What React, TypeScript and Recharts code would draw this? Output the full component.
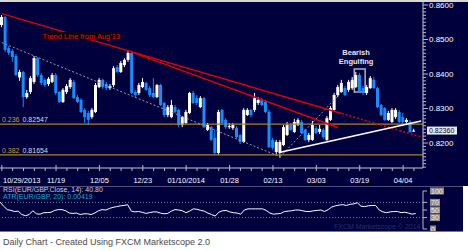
import React from 'react';
import {
  ComposedChart, Bar, Line, XAxis, YAxis, ReferenceLine, ReferenceArea, ReferenceDot,
} from 'recharts';

// EUR/GBP daily candles, 10/29/2013 .. 04/09/2014
const opens = [
  0.8542, 0.8565, 0.8475, 0.8467, 0.8452, 0.8390, 0.8406, 0.8333, 0.8348, 0.8377,
  0.8446, 0.8397, 0.8383, 0.8371, 0.8377, 0.8397, 0.8348, 0.8319, 0.8348, 0.8362,
  0.8377, 0.8333, 0.8325, 0.8296, 0.8287, 0.8275, 0.8290, 0.8362, 0.8383, 0.8371,
  0.8359, 0.8368, 0.8420, 0.8406, 0.8426, 0.8441, 0.8461, 0.8348, 0.8345, 0.8362,
  0.8374, 0.8359, 0.8345, 0.8333, 0.8368, 0.8316, 0.8281, 0.8275, 0.8304, 0.8296,
  0.8252, 0.8258, 0.8287, 0.8345, 0.8330, 0.8304, 0.8330, 0.8238, 0.8246, 0.8215,
  0.8171, 0.8296, 0.8267, 0.8246, 0.8243, 0.8243, 0.8223, 0.8203, 0.8281, 0.8296,
  0.8296, 0.8316, 0.8325, 0.8319, 0.8290, 0.8209, 0.8174, 0.8171, 0.8194, 0.8223,
  0.8252, 0.8232, 0.8252, 0.8261, 0.8238, 0.8209, 0.8209, 0.8243, 0.8232, 0.8238,
  0.8209, 0.8267, 0.8296, 0.8339, 0.8348, 0.8359, 0.8354, 0.8359, 0.8362, 0.8397,
  0.8359, 0.8345, 0.8359, 0.8383, 0.8359, 0.8310, 0.8301, 0.8267, 0.8261, 0.8275,
  0.8290, 0.8275, 0.8261, 0.8261, 0.8235,
];
const highs = [
  0.8571, 0.8568, 0.8481, 0.8472, 0.8458, 0.8412, 0.8409, 0.8354, 0.8394, 0.8452,
  0.8449, 0.8403, 0.8388, 0.8391, 0.8403, 0.8403, 0.8351, 0.8359, 0.8371, 0.8388,
  0.8383, 0.8339, 0.8330, 0.8301, 0.8293, 0.8301, 0.8374, 0.8388, 0.8386, 0.8377,
  0.8371, 0.8423, 0.8426, 0.8438, 0.8446, 0.8467, 0.8467, 0.8354, 0.8374, 0.8388,
  0.8377, 0.8365, 0.8388, 0.8371, 0.8371, 0.8319, 0.8310, 0.8325, 0.8310, 0.8299,
  0.8278, 0.8296, 0.8348, 0.8351, 0.8339, 0.8336, 0.8333, 0.8258, 0.8249, 0.8238,
  0.8296, 0.8299, 0.8272, 0.8258, 0.8258, 0.8249, 0.8226, 0.8301, 0.8301, 0.8299,
  0.8345, 0.8333, 0.8330, 0.8325, 0.8296, 0.8215, 0.8209, 0.8209, 0.8252, 0.8261,
  0.8258, 0.8270, 0.8272, 0.8267, 0.8241, 0.8229, 0.8264, 0.8249, 0.8252, 0.8243,
  0.8278, 0.8307, 0.8345, 0.8368, 0.8383, 0.8365, 0.8383, 0.8391, 0.8406, 0.8403,
  0.8365, 0.8368, 0.8394, 0.8391, 0.8362, 0.8313, 0.8304, 0.8293, 0.8301, 0.8301,
  0.8296, 0.8287, 0.8272, 0.8267, 0.8241,
];
const lows = [
  0.8536, 0.8464, 0.8455, 0.8435, 0.8394, 0.8380, 0.8304, 0.8328, 0.8342, 0.8371,
  0.8391, 0.8368, 0.8362, 0.8365, 0.8374, 0.8339, 0.8316, 0.8316, 0.8342, 0.8357,
  0.8328, 0.8316, 0.8287, 0.8258, 0.8252, 0.8270, 0.8287, 0.8359, 0.8357, 0.8354,
  0.8354, 0.8362, 0.8403, 0.8403, 0.8420, 0.8435, 0.8342, 0.8333, 0.8339, 0.8359,
  0.8351, 0.8333, 0.8330, 0.8330, 0.8307, 0.8275, 0.8275, 0.8272, 0.8287, 0.8246,
  0.8246, 0.8255, 0.8284, 0.8313, 0.8310, 0.8301, 0.8243, 0.8235, 0.8206, 0.8165,
  0.8165, 0.8255, 0.8241, 0.8241, 0.8238, 0.8214, 0.8197, 0.8200, 0.8278, 0.8275,
  0.8290, 0.8310, 0.8307, 0.8287, 0.8186, 0.8180, 0.8168, 0.8157, 0.8191, 0.8220,
  0.8235, 0.8229, 0.8249, 0.8226, 0.8206, 0.8203, 0.8206, 0.8226, 0.8226, 0.8212,
  0.8206, 0.8264, 0.8293, 0.8333, 0.8345, 0.8336, 0.8348, 0.8354, 0.8359, 0.8345,
  0.8339, 0.8339, 0.8357, 0.8357, 0.8301, 0.8278, 0.8264, 0.8264, 0.8258, 0.8270,
  0.8258, 0.8255, 0.8255, 0.8229, 0.8232,
];
const closes = [
  0.8565, 0.8470, 0.8461, 0.8449, 0.8397, 0.8406, 0.8333, 0.8345, 0.8388, 0.8446,
  0.8397, 0.8374, 0.8368, 0.8386, 0.8397, 0.8345, 0.8319, 0.8354, 0.8365, 0.8383,
  0.8330, 0.8319, 0.8290, 0.8275, 0.8267, 0.8296, 0.8368, 0.8383, 0.8362, 0.8359,
  0.8365, 0.8417, 0.8406, 0.8432, 0.8441, 0.8461, 0.8345, 0.8339, 0.8368, 0.8377,
  0.8354, 0.8339, 0.8333, 0.8368, 0.8310, 0.8281, 0.8304, 0.8310, 0.8290, 0.8252,
  0.8275, 0.8290, 0.8345, 0.8316, 0.8316, 0.8330, 0.8246, 0.8252, 0.8209, 0.8171,
  0.8290, 0.8258, 0.8246, 0.8249, 0.8252, 0.8217, 0.8203, 0.8296, 0.8296, 0.8281,
  0.8330, 0.8325, 0.8310, 0.8290, 0.8188, 0.8186, 0.8203, 0.8203, 0.8246, 0.8252,
  0.8238, 0.8261, 0.8267, 0.8229, 0.8209, 0.8223, 0.8252, 0.8229, 0.8241, 0.8217,
  0.8272, 0.8301, 0.8339, 0.8362, 0.8374, 0.8339, 0.8377, 0.8383, 0.8397, 0.8348,
  0.8345, 0.8362, 0.8388, 0.8359, 0.8304, 0.8281, 0.8267, 0.8287, 0.8296, 0.8296,
  0.8261, 0.8261, 0.8267, 0.8232, 0.8236,
];
const rsi = [
  71, 60, 51, 49, 46, 47, 38, 35, 38, 48,
  40, 39, 43, 43, 44, 49, 51, 51, 48, 42,
  41, 42, 38, 40, 40, 38, 42, 48, 51, 50,
  54, 57, 59, 61, 62, 64, 47, 45, 46, 44,
  41, 43, 45, 45, 42, 40, 41, 47, 51, 50,
  48, 43, 47, 53, 52, 49, 47, 42, 38, 34,
  44, 48, 49, 45, 43, 42, 39, 50, 53, 53,
  53, 53, 53, 49, 42, 39, 40, 41, 46, 47,
  48, 50, 50, 48, 46, 46, 48, 49, 50, 46,
  51, 58, 61, 63, 64, 62, 65, 66, 69, 60,
  59, 61, 62, 62, 50, 45, 43, 45, 46, 46,
  43, 44, 42, 39, 40.8,
];

const tickIdx = [0, 15, 27, 39, 51, 63, 75, 87, 99, 111];
const tickLabels = ['10/29/2013', '11/19', '12/05', '12/23', '01/10/2014', '01/28', '02/13', '03/03', '03/19', '04/04'];
const priceLabels = [0.82, 0.83, 0.84, 0.85, 0.86];
const rsiLabels = [0, 30, 50, 70, 100];
const fibs = [{ ratio: '0.236', price: 0.82547 }, { ratio: '0.382', price: 0.81654 }];
const lastPrice = 0.8236;

const NAVY = '#00003c';
const BLUE = '#1a8cff';
const FONT = '"Liberation Sans", Arial, sans-serif';

const rows = Array.from({ length: opens.length + 2 }, (_, i) =>
  i < opens.length
    ? { i, o: opens[i], h: highs[i], l: lows[i], c: closes[i], range: [lows[i], highs[i]], rsi: rsi[i] }
    : { i, range: null, rsi: null });

const minorTicks = Array.from({ length: 48 }, (_, k) => +(0.813 + k * 0.001).toFixed(3));
const xTicks = rows.filter((r) => r.i % 3 === 0 && r.i < opens.length).map((r) => r.i);

const Candle = (props: any) => {
  const { x, y, width, height, payload } = props;
  if (!payload || payload.o == null) return null;
  const { o, h, l, c } = payload;
  const color = c >= o ? '#ffffff' : BLUE;
  const k = height / Math.max(h - l, 1e-9);
  const py = (p: number) => y + (h - p) * k;
  const top = py(Math.max(o, c));
  const bot = py(Math.min(o, c));
  const cx = x + width / 2;
  return (
    <g>
      <line x1={cx} x2={cx} y1={y} y2={y + height} stroke={color} strokeWidth={1} />
      <rect x={x} y={top} width={width} height={Math.max(1, bot - top)} fill={color} />
    </g>
  );
};

const XTick = (props: any) => {
  const { x, y, payload } = props;
  const k = tickIdx.indexOf(payload.value);
  const major = k >= 0;
  return (
    <g>
      <line x1={x} x2={x} y1={y - (major ? 3 : 0)} y2={y + 3} stroke="#b8b8c8" />
      {major && (
        <text x={k === 0 ? 3 : x} y={y + 15} textAnchor={k === 0 ? 'start' : 'middle'}
          fill="#ffffff" fontSize={7.5} fontFamily={FONT}>{tickLabels[k]}</text>
      )}
    </g>
  );
};

const YTick = (props: any) => {
  const { x, y, payload } = props;
  const v = payload.value;
  const major = priceLabels.some((p) => Math.abs(p - v) < 1e-6);
  return (
    <g>
      <line x1={x} x2={x + (major ? 5 : 3)} y1={y} y2={y} stroke="#b8b8c8" />
      {major && (
        <text x={x + 6} y={y + 3} fill="#ffffff" fontSize={8} fontFamily={FONT}>{v.toFixed(4)}</text>
      )}
    </g>
  );
};

const RsiTick = (props: any) => {
  const { x, y, payload } = props;
  const s = String(payload.value);
  const w = s.length * 4 + 2;
  return (
    <g>
      <line x1={x} x2={x + 4} y1={y} y2={y} stroke="#b8b8c8" />
      <rect x={x + 7} y={y - 3.5} width={w} height={7} fill="#8c8c8c" />
      <text x={x + 8} y={y + 2.5} fill="#f0f0f0" fontSize={7} fontFamily={FONT}>{s}</text>
    </g>
  );
};

const FibLabel = ({ ratio, price }: { ratio: string; price: number }) => (props: any) => {
  const { viewBox } = props;
  return (
    <text x={viewBox.x + 2} y={viewBox.y - 2} fontSize={7} fontFamily={FONT}>
      <tspan fill="#c89a38">{ratio}</tspan>
      <tspan fill="#d8d8e0" dx={3}>{price.toFixed(5)}</tspan>
    </text>
  );
};

const TrendText = (props: any) => {
  const { viewBox } = props;
  const cx = viewBox.x + viewBox.width / 2;
  const cy = viewBox.y + viewBox.height / 2;
  return (
    <g>
      <rect x={cx - 39} y={cy - 4} width={78} height={8} fill="#100010" />
      <text x={cx} y={cy + 3} textAnchor="middle" fill="#e81010" fontSize={7.5} fontFamily={FONT}>
        Trend Line from Aug'13
      </text>
    </g>
  );
};

const EngulfText = (props: any) => {
  const { viewBox } = props;
  const cx = viewBox.x + viewBox.width / 2;
  const cy = viewBox.y + viewBox.height / 2;
  return (
    <g fontFamily={FONT} fontSize={7.5} fontWeight="bold" fill="#e8e8f0" textAnchor="middle">
      <text x={cx} y={cy - 2}>Bearish</text>
      <text x={cx} y={cy + 7}>Engulfing</text>
    </g>
  );
};

export default function App() {
  return (
    <div style={{ position: 'absolute', left: 0, top: 0, width: 468, height: 251, background: '#fff', overflow: 'hidden', fontFamily: FONT }}>
      <div style={{ position: 'absolute', left: 0, top: 0, width: 468, height: 2, background: '#d8d8d8' }} />
      <div style={{ position: 'absolute', left: 0, top: 2, width: 468, height: 184, background: NAVY }} />
      <div style={{ position: 'absolute', left: 0, top: 186, width: 463, height: 45, background: NAVY }} />
      <div style={{ position: 'absolute', left: 0, top: 186, width: 463, height: 1, background: '#50507a' }} />
      <div style={{ position: 'absolute', left: 0, top: 231, width: 463, height: 1, background: '#2f8fc0' }} />

      <div style={{ position: 'absolute', left: 0, top: 0 }}>
        <ComposedChart width={463} height={186} data={rows} margin={{ top: 2, right: 0, bottom: 0, left: 0 }}>
          <XAxis dataKey="i" type="category" ticks={xTicks} interval={0} height={18}
            axisLine={{ stroke: '#c8c8d8' }} tickLine={false} tickSize={0} tickMargin={0} tick={<XTick />} />
          <YAxis orientation="right" width={40} domain={[0.81275, 0.86087]} allowDataOverflow
            ticks={minorTicks} interval={0} axisLine={{ stroke: '#c8c8d8' }} tickLine={false}
            tickSize={0} tickMargin={0} tick={<YTick />} />
          {fibs.map((f) => (
            <ReferenceLine key={f.ratio} y={f.price} stroke="#a8822c" strokeWidth={1.2}
              label={FibLabel(f)} />
          ))}
          <ReferenceLine segment={[{ x: 0, y: 0.8491 }, { x: 77, y: 0.8160 }]} stroke="#9a9ab0" strokeDasharray="2 2" />
          <ReferenceLine segment={[{ x: 77, y: 0.8160 }, { x: 94, y: 0.8348 }]} stroke="#9a9ab0" strokeDasharray="2 2" />
          <Bar dataKey="range" barSize={3} shape={<Candle />} isAnimationActive={false} />
          <ReferenceLine segment={[{ x: 0, y: 0.8575 }, { x: 94, y: 0.82855 }]} stroke="#e00000" strokeWidth={1.5} />
          <ReferenceLine segment={[{ x: 94, y: 0.82855 }, { x: 116, y: 0.82177 }]} stroke="#e00000" strokeWidth={1.5} strokeDasharray="2 2" />
          <ReferenceLine segment={[{ x: 35, y: 0.8467 }, { x: 93, y: 0.8245 }]} stroke="#e00000" strokeWidth={1.5} />
          <ReferenceLine segment={[{ x: 77, y: 0.8173 }, { x: 116, y: 0.8264 }]} stroke="#ffffff" strokeWidth={1.5} />
          <ReferenceArea x1={98} x2={100} y1={0.83478} y2={0.84145} fill="none" stroke="#b0b0c0" strokeWidth={1.5} />
          <ReferenceDot x={22} y={0.8510} r={0} fill="none" stroke="none" label={<TrendText />} />
          <ReferenceDot x={98} y={0.8449} r={0} fill="none" stroke="none" label={<EngulfText />} />
          <ReferenceLine y={lastPrice} stroke="none" ifOverflow="visible"
            label={(p: any) => (
              <g>
                <rect x={427} y={p.viewBox.y - 4} width={30} height={8} fill="#e8e8ee" />
                <text x={429} y={p.viewBox.y + 2.5} fontSize={7} fill="#000038" fontFamily={FONT}>{lastPrice.toFixed(5)}</text>
              </g>
            )} />
        </ComposedChart>
      </div>

      <div style={{ position: 'absolute', left: 0, top: 186 }}>
        <ComposedChart width={463} height={45} data={rows} margin={{ top: 5, right: 0, bottom: 2, left: 0 }}>
          <XAxis dataKey="i" type="category" hide />
          <YAxis orientation="right" width={40} domain={[0, 100]} ticks={rsiLabels} interval={0}
            axisLine={{ stroke: '#b8b8c8' }} tickLine={false} tickSize={0} tickMargin={0} tick={<RsiTick />} />
          <ReferenceLine y={70} stroke="#7a7aa0" strokeDasharray="1 2" />
          <ReferenceLine y={30} stroke="#7a7aa0" strokeDasharray="1 2" />
          <Line dataKey="rsi" stroke="#ffffff" strokeWidth={1} dot={false} isAnimationActive={false} />
        </ComposedChart>
      </div>

      <div style={{ position: 'absolute', left: 3, top: 186, fontSize: 7, color: '#d0d0e0', lineHeight: '8px', whiteSpace: 'nowrap' }}>
        RSI(EUR/GBP.Close, 14): 40.80
      </div>
      <div style={{ position: 'absolute', left: 3, top: 193, fontSize: 7, color: '#1ea8d0', lineHeight: '8px', whiteSpace: 'nowrap' }}>
        ATR(EUR/GBP, 20): 0.00419
      </div>
      <div style={{ position: 'absolute', left: 334, top: 223, fontSize: 7, color: '#28306a', lineHeight: '8px', whiteSpace: 'nowrap' }}>
        FXCM Marketscope © 2014
      </div>
      <div style={{ position: 'absolute', left: 3, top: 237, fontSize: 9, color: '#4a4a4a', lineHeight: '11px', whiteSpace: 'nowrap' }}>
        Daily Chart - Created Using FXCM Marketscope 2.0
      </div>
    </div>
  );
}
